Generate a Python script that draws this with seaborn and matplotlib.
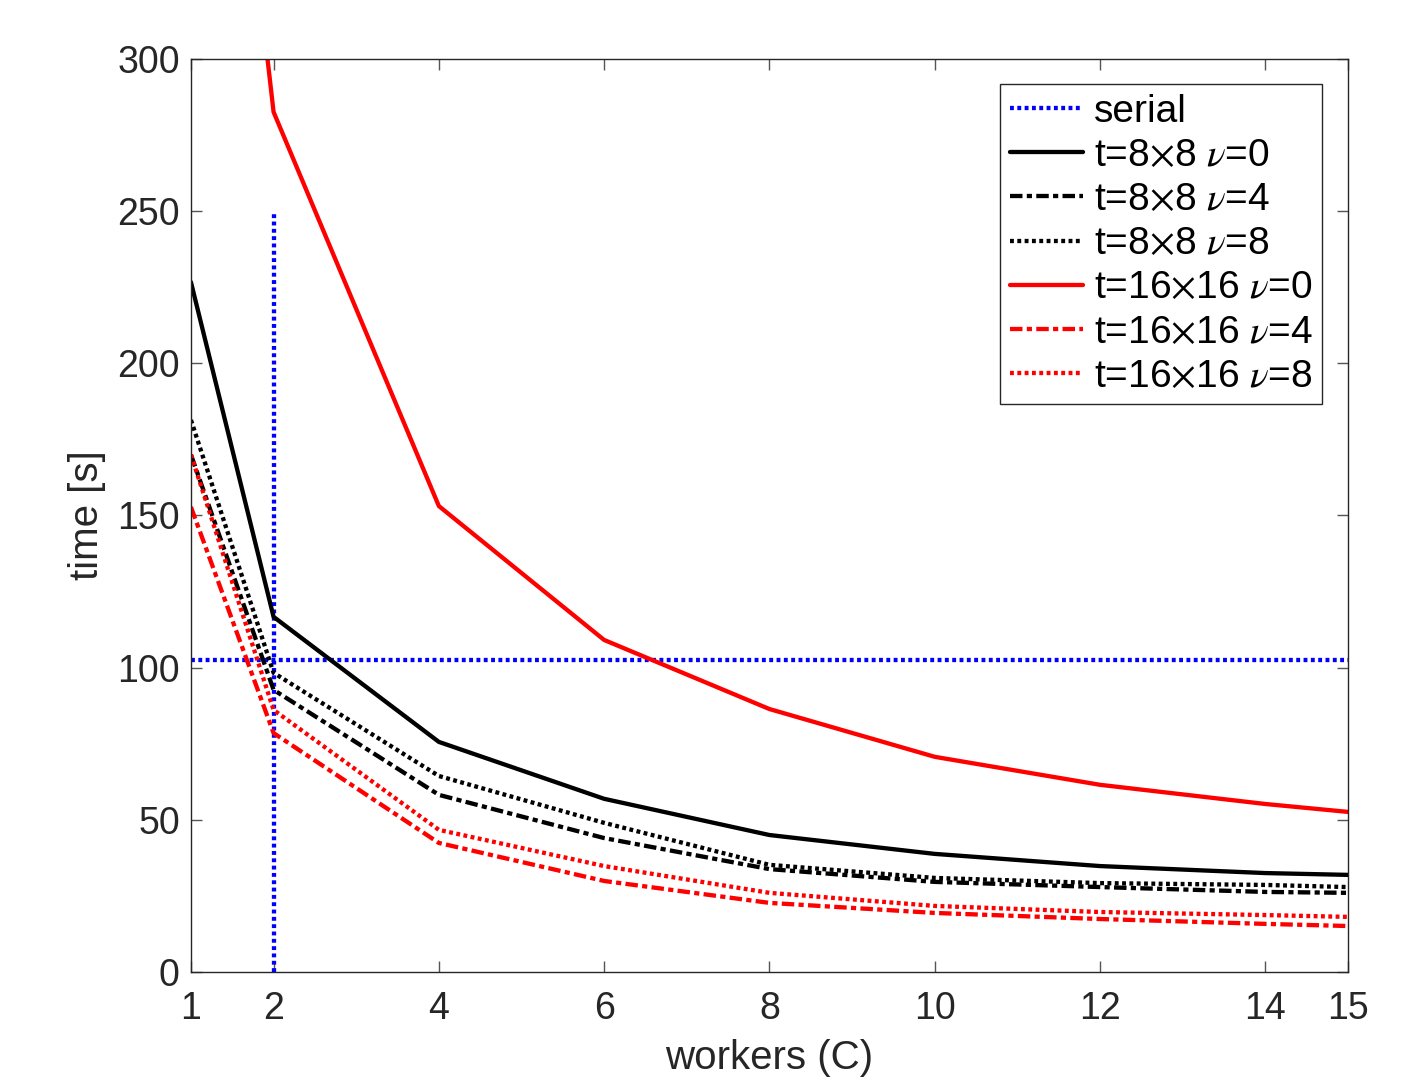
import matplotlib
matplotlib.use("Agg")
import matplotlib.pyplot as plt
import seaborn as sns
import numpy as np

workers = [1, 2, 4, 6, 8, 10, 12, 14, 15]

t8_nu0 = [226.7, 116.7, 75.6, 56.9, 45.0, 38.8, 34.8, 32.5, 31.9]
t8_nu4 = [170.0, 92.7, 58.2, 44.0, 33.8, 29.6, 27.9, 26.3, 26.0]
t8_nu8 = [181.4, 98.3, 64.4, 49.0, 35.2, 30.9, 29.2, 28.6, 27.9]
t16_nu0 = [520.0, 282.6, 153.1, 109.1, 86.4, 70.7, 61.5, 55.2, 52.6]
t16_nu4 = [152.8, 78.5, 42.4, 29.9, 22.7, 19.4, 17.4, 15.8, 15.1]
t16_nu8 = [170.0, 86.1, 46.7, 34.8, 26.0, 21.7, 19.7, 18.7, 18.1]

serial_time = 102.5
serial_x = [1, 15]
cross_x = [2, 2]
cross_y = [0, 250]

X = r"$\times$"
labels = ["serial",
          "t=8" + X + r"8 $\nu$=0", "t=8" + X + r"8 $\nu$=4", "t=8" + X + r"8 $\nu$=8",
          "t=16" + X + r"16 $\nu$=0", "t=16" + X + r"16 $\nu$=4", "t=16" + X + r"16 $\nu$=8"]

sns.set_theme(style="white")
plt.rcParams['font.family'] = ['Liberation Sans', 'DejaVu Sans']
plt.rcParams['mathtext.fontset'] = 'stix'
plt.rcParams['axes.unicode_minus'] = False

fig = plt.figure(figsize=(14.07, 10.79), dpi=100)
ax = fig.add_axes([0.1357, 0.0992, 0.958 - 0.1357, 0.9453 - 0.0992])

lw = 3.1
dotted = (0, (0.9, 0.8))
dashdot = (0, (2.9, 1.0, 1.2, 1.0))

sns.lineplot(x=serial_x, y=[serial_time, serial_time], ax=ax, color="#0000ff",
             lw=lw, linestyle=dotted, label=labels[0])
sns.lineplot(x=cross_x, y=cross_y, ax=ax, color="#0000ff", lw=lw,
             linestyle=dotted, legend=False, sort=False, estimator=None)

series = [
    (t8_nu0, "black", "-"),
    (t8_nu4, "black", dashdot),
    (t8_nu8, "black", dotted),
    (t16_nu0, "#ff0000", "-"),
    (t16_nu4, "#ff0000", dashdot),
    (t16_nu8, "#ff0000", dotted),
]
for (vals, col, ls), lab in zip(series, labels[1:]):
    sns.lineplot(x=workers, y=vals, ax=ax, color=col, lw=lw, linestyle=ls, label=lab)

ax.set_xlim(1, 15)
ax.set_ylim(0, 300)
ax.set_xticks(workers)
ax.set_yticks(np.arange(0, 301, 50))

tc = "#262626"
for s in ax.spines.values():
    s.set_color(tc)
    s.set_linewidth(1.0)
ax.tick_params(direction="in", length=8, width=1.0, color="#555555",
               labelsize=27, labelcolor=tc, top=True, right=True,
               bottom=True, left=True)
ax.tick_params(axis="x", pad=14)
ax.tick_params(axis="y", pad=8)
ax.set_xlabel("workers (C)", fontsize=29, color=tc, labelpad=8)
ax.set_ylabel("time [s]", fontsize=29, color=tc, labelpad=8)

leg = ax.legend(loc="upper right", bbox_to_anchor=(0.978, 0.9726), fontsize=28,
                frameon=True, fancybox=False, edgecolor=tc, framealpha=1,
                handlelength=1.9, handletextpad=0.26, borderpad=0.25,
                labelspacing=0.21, borderaxespad=0)
leg.get_frame().set_linewidth(1.0)
for t in leg.get_texts():
    t.set_color("black")

fig.savefig("out.png", dpi=100)
